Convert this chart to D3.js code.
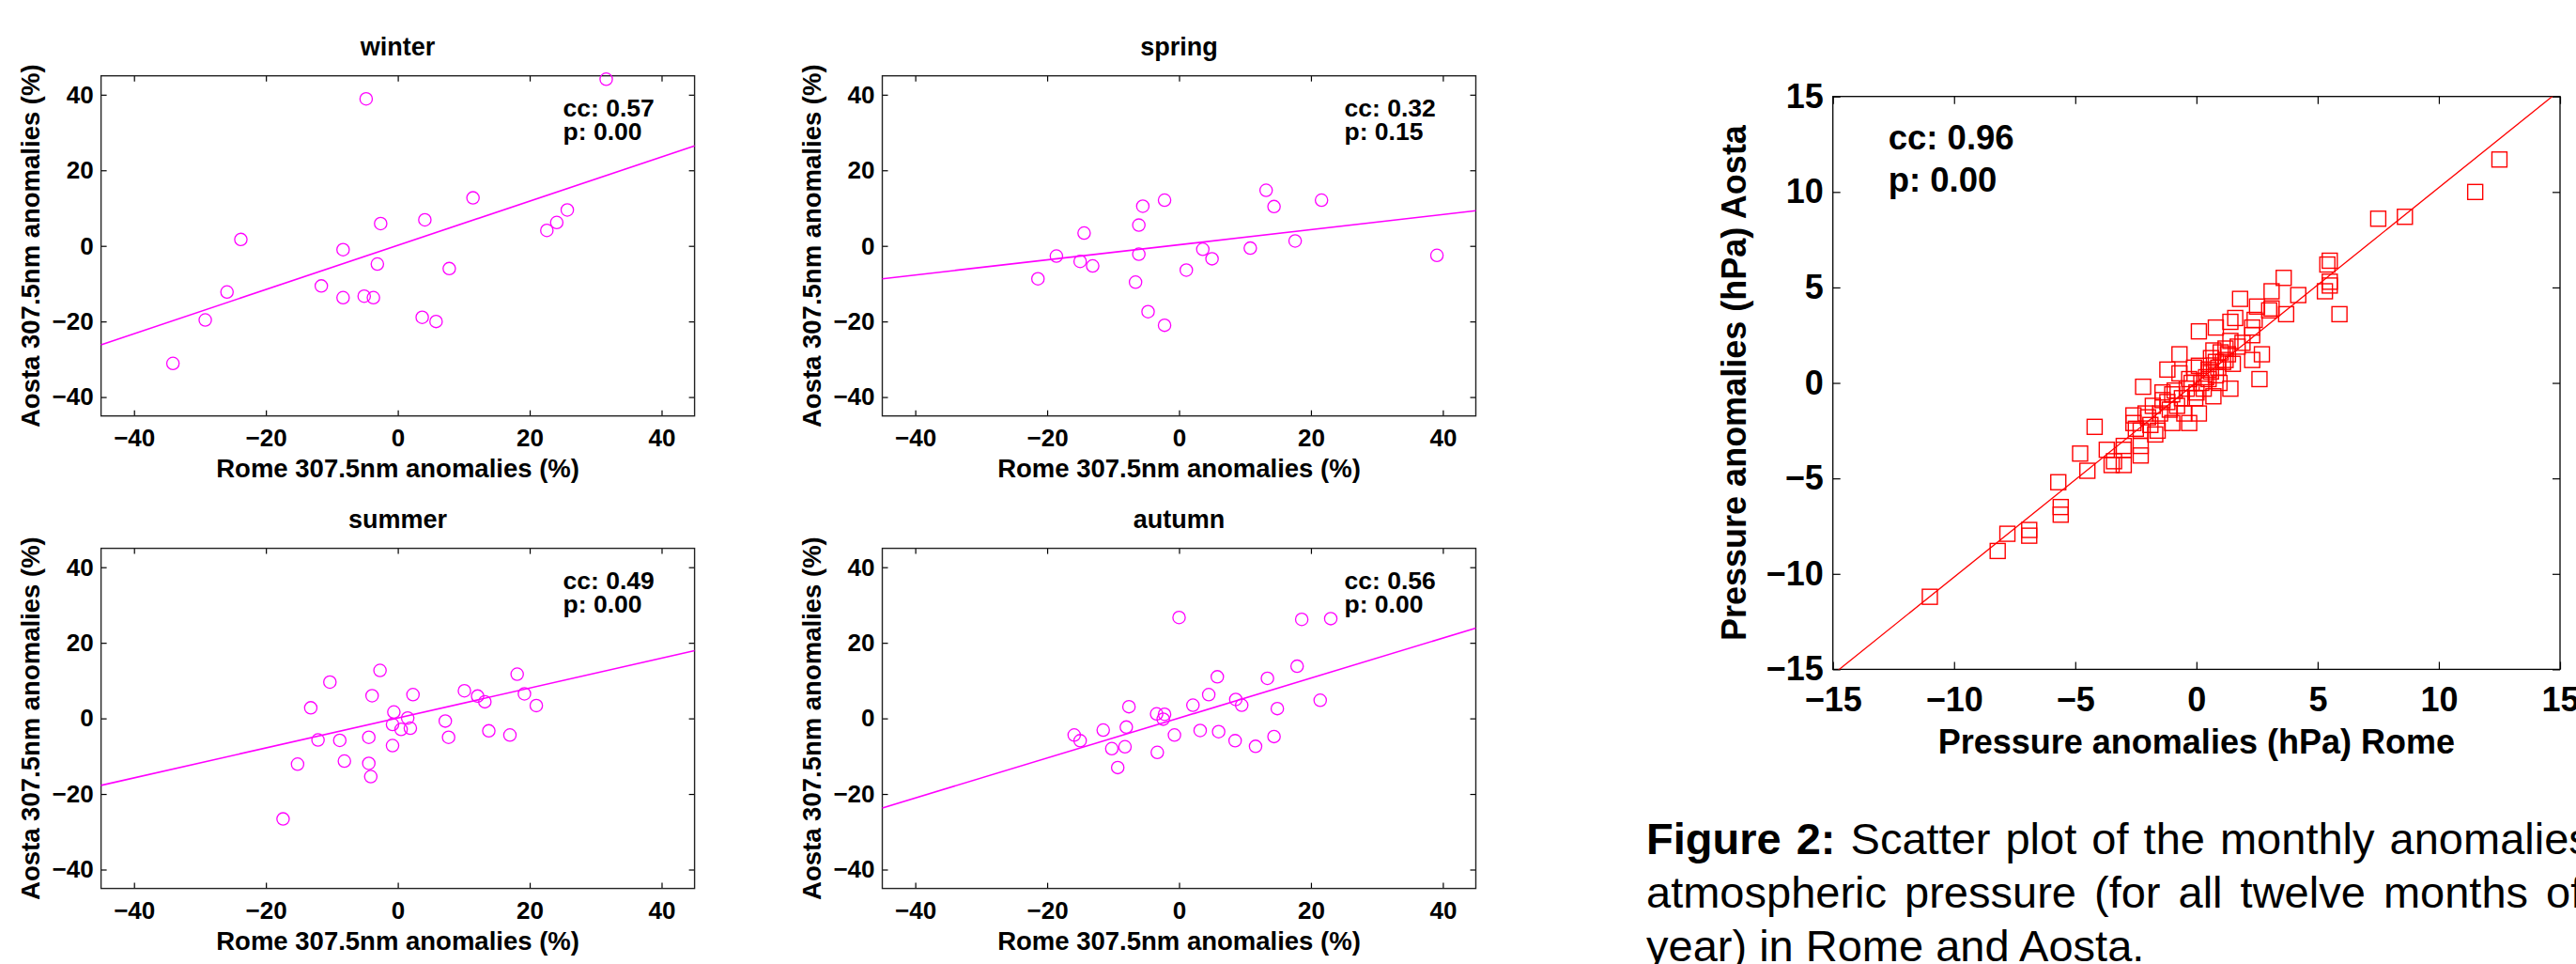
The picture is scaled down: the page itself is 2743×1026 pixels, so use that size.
<!DOCTYPE html>
<html><head><meta charset="utf-8">
<script src="https://cdn.jsdelivr.net/npm/d3@7"></script>
<style>
html,body{margin:0;padding:0;background:#fff;overflow:hidden;}
svg{display:block;font-family:"Liberation Sans",Arial,Helvetica,sans-serif;}
</style></head>
<body>
<svg id="chart" width="2743" height="1026"></svg>
<script>
// ---------------- DATA ----------------
const seasons = ["winter", "spring", "summer", "autumn"];
const seasonTicks = [-40, -20, 0, 20, 40];
const seasonXLabel = "Rome 307.5nm anomalies (%)";
const seasonYLabel = "Aosta 307.5nm anomalies (%)";
const ccLabels = ["cc: 0.57", "cc: 0.32", "cc: 0.49", "cc: 0.56"];
const pLabels = ["p: 0.00", "p: 0.15", "p: 0.00", "p: 0.00"];
const fitSlopes = [0.585, 0.20, 0.396, 0.529];
const fitIntercepts = [0.15, 0.3, 0.1, 0.1];

const winterRome  = [31.6, -4.8, 11.4, 25.7, 24.1, 22.6, 4.1, -2.6, -23.8, -8.3, -3.1, 7.8, -11.6, -25.9, -8.3, -5.1, -3.7, 3.7, 5.8, -29.2, -34.1];
const winterAosta = [44.1, 38.9, 12.7, 9.5, 6.2, 4.1, 6.9, 5.9, 1.7, -1.0, -4.8, -6.0, -10.6, -12.2, -13.7, -13.3, -13.7, -18.9, -20.0, -19.6, -31.1];

const springRome  = [13.2, 21.6, -2.2, -5.5, 14.4, -6.1, -14.4, 17.6, 3.6, 10.8, -6.1, -18.6, 39.1, 5.0, -15.0, -13.1, 1.1, -21.4, -6.6, -4.7, -2.2];
const springAosta = [14.7, 12.1, 12.1, 10.5, 10.4, 5.5, 3.4, 1.3, -0.9, -0.6, -2.2, -2.7, -2.5, -3.4, -4.1, -5.3, -6.4, -8.7, -9.6, -17.4, -21.0];

const summerRome  = [-2.7, -10.3, 18.1, 10.1, 2.3, -3.9, 12.1, 19.2, 13.2, 21.0, -13.2, -0.6, 1.5, 7.2, -0.8, 0.5, 1.9, 13.8, 17.0, -4.4, 7.7, -12.1, -8.8, -0.8, -8.1, -15.2, -4.4, -4.1, -17.4];
const summerAosta = [12.7, 9.6, 11.7, 7.3, 6.3, 6.0, 5.9, 6.5, 4.4, 3.4, 2.8, 1.7, 0.1, -0.7, -1.6, -2.9, -2.6, -3.3, -4.4, -5.0, -5.0, -5.7, -5.8, -7.2, -11.3, -12.1, -11.9, -15.4, -26.6];

const autumnRome  = [0.0, 18.6, 23.0, 17.9, 5.8, 13.4, 4.5, 8.6, 21.4, 2.1, 9.5, -7.6, 14.9, -3.4, -2.2, -2.4, -8.0, -11.5, 3.2, 6.0, -15.9, -0.7, 14.4, -15.0, 8.5, -8.2, 11.6, -10.2, -3.3, -9.3];
const autumnAosta = [26.7, 26.2, 26.4, 13.8, 11.0, 10.6, 6.3, 5.0, 4.8, 3.5, 3.5, 3.1, 2.6, 1.2, 1.1, -0.2, -2.3, -3.1, -3.2, -3.5, -4.4, -4.4, -4.8, -5.9, -5.9, -7.5, -7.4, -8.0, -9.0, -13.0];

const seasonRome  = [winterRome, springRome, summerRome, autumnRome];
const seasonAosta = [winterAosta, springAosta, summerAosta, autumnAosta];

const pressureTicks = [-15, -10, -5, 0, 5, 10, 15];
const pressureXLabel = "Pressure anomalies (hPa) Rome";
const pressureYLabel = "Pressure anomalies (hPa) Aosta";
const pressureCC = "cc: 0.96";
const pressureP = "p: 0.00";
const pressureSlope = 1.02;
const pressureIntercept = 0.03;
const pressureRome = [12.5, 11.5, 8.6, 7.5, 5.4, 5.5, 5.5, 5.3, 5.5, 5.9, 3.6, 4.2, 3.1, 3.7, 3.0, 3.1, 1.8, 2.5, 2.4, 2.7, 2.3, 2.6, 0.1, 0.8, 1.6, 1.4, 2.3, 2.3, 1.4, -0.7, -1.2, -2.2, -4.2, -4.8, -4.5, -5.7, -5.6, -5.6, -3.7, -3.5, -3.0, -3.0, -2.3, -2.3, -7.8, -6.9, -6.9, -8.2, -11.0, -2.5, -2.6, -2.1, -1.7, -0.3, -1.0, 0.1, 1.4, 0.7, -2.6, -2.3, -1.6, -3.4, -3.0,
  0.7, 1.0, 1.2, 0.8, -0.1, 0.1, -0.7, 0.4, -0.2, -1.4, -0.9, -0.6, -1.4, -1.8, -1.1, -0.5, -0.05, 0.95, 0.6, 1.5, 1.2, 0.2, 0.5, 1.1, 0.9, 1.7, 1.9, -0.4, -1.2, -0.8, 0.3, 0.5, -1.5, -2.0, 0.0, 1.3, 0.6, -0.3, -1.0, -1.9, 0.8];
const pressureAosta = [11.7, 10.0, 8.7, 8.6, 6.2, 6.4, 5.3, 4.8, 5.1, 3.6, 5.5, 4.6, 4.8, 3.6, 3.8, 3.9, 4.4, 4.0, 3.3, 1.5, 1.2, 0.2, 2.7, 2.9, 3.4, 3.2, 2.9, 2.5, 2.2, 1.5, 0.7, -0.2, -2.3, -3.7, -4.6, -5.2, -6.5, -6.9, -3.5, -4.3, -4.3, -3.5, -3.3, -3.8, -7.9, -7.7, -8.0, -8.8, -11.2, -2.4, -1.7, -1.6, -2.7, -2.1, -2.1, -1.6, -0.3, -0.7, -2.1, -2.5, -2.5, -4.1, -3.3,
  1.7, 1.6, 1.2, 1.1, 0.8, 0.9, 0.5, 0.3, 0.0, -0.5, -0.4, -0.8, -0.9, -1.2, -1.4, -1.6, -0.8, 0.0, 0.6, 1.0, 1.8, 0.0, 0.7, 1.1, 0.8, 1.9, 2.1, -0.3, -1.0, -1.2, -0.3, 0.2, -1.6, -1.8, -0.5, 1.5, 1.3, 0.2, -0.6, -2.2, 0.4];

const captionLines = [
  ["Figure 2:", " Scatter plot of the monthly anomalies of"],
  ["", "atmospheric pressure (for all twelve months of the"],
  ["", "year) in Rome and Aosta."]
];

// ---------------- LAYOUT ----------------
const svg = d3.select("#chart");
const magenta = "#ff00ff";
const panels = [
  {x: 107.6, y: 80.7,  w: 632, h: 362, ylabX: 42},
  {x: 939.5, y: 80.7,  w: 632, h: 362, ylabX: 874},
  {x: 107.6, y: 583.6, w: 632, h: 362, ylabX: 42},
  {x: 939.5, y: 583.6, w: 632, h: 362, ylabX: 874}
];

function styleAxis(g, size) {
  g.attr("font-family", null).attr("font-size", null);
  g.selectAll("text").attr("font-size", size).attr("font-weight", "bold")
    .attr("fill", "#000").attr("font-family", "'Liberation Sans',Arial,sans-serif");
  g.selectAll("line").attr("stroke", "#000").attr("stroke-width", 1.2);
  g.select(".domain").remove();
}

seasons.forEach((name, i) => {
  const p = panels[i];
  const g = svg.append("g").attr("transform", `translate(${p.x},${p.y})`);
  const x = d3.scaleLinear().domain([-45, 45]).range([0, p.w]);
  const y = d3.scaleLinear().domain([-45, 45]).range([p.h, 0]);

  g.append("g").attr("transform", `translate(0,${p.h})`)
    .call(d3.axisBottom(x).tickValues(seasonTicks).tickSizeInner(-6).tickSizeOuter(0).tickPadding(14).tickFormat(d3.format("d")))
    .call(s => styleAxis(s, 26));
  g.append("g")
    .call(d3.axisTop(x).tickValues(seasonTicks).tickSizeInner(-6).tickSizeOuter(0).tickFormat(""))
    .call(s => styleAxis(s, 26));
  g.append("g")
    .call(d3.axisLeft(y).tickValues(seasonTicks).tickSizeInner(-6).tickSizeOuter(0).tickPadding(8).tickFormat(d3.format("d")))
    .call(s => styleAxis(s, 26));
  g.append("g").attr("transform", `translate(${p.w},0)`)
    .call(d3.axisRight(y).tickValues(seasonTicks).tickSizeInner(-6).tickSizeOuter(0).tickFormat(""))
    .call(s => styleAxis(s, 26));

  g.append("rect").attr("width", p.w).attr("height", p.h)
    .attr("fill", "none").attr("stroke", "#222").attr("stroke-width", 1.4);

  // regression line
  const fx = [-45, 45];
  g.append("line")
    .attr("x1", x(fx[0])).attr("y1", y(fitSlopes[i] * fx[0] + fitIntercepts[i]))
    .attr("x2", x(fx[1])).attr("y2", y(fitSlopes[i] * fx[1] + fitIntercepts[i]))
    .attr("stroke", magenta).attr("stroke-width", 1.6);

  const pts = seasonRome[i].map((v, k) => [v, seasonAosta[i][k]]);
  g.selectAll("circle.pt").data(pts).enter().append("circle")
    .attr("class", "pt")
    .attr("cx", d => x(d[0])).attr("cy", d => y(d[1])).attr("r", 6.6)
    .attr("fill", "none").attr("stroke", magenta).attr("stroke-width", 1.3);

  // title
  g.append("text").attr("x", p.w / 2).attr("y", -22).attr("text-anchor", "middle")
    .attr("font-size", 27).attr("font-weight", "bold").text(name);
  // stats
  g.append("text").attr("x", 492).attr("y", 43.5)
    .attr("font-size", 26.5).attr("font-weight", "bold").text(ccLabels[i]);
  g.append("text").attr("x", 492).attr("y", 68)
    .attr("font-size", 26.5).attr("font-weight", "bold").text(pLabels[i]);
  // axis labels
  g.append("text").attr("x", p.w / 2).attr("y", p.h + 65).attr("text-anchor", "middle")
    .attr("font-size", 27.5).attr("font-weight", "bold").text(seasonXLabel);
  svg.append("text")
    .attr("transform", `translate(${p.ylabX},${p.y + p.h / 2}) rotate(-90)`)
    .attr("text-anchor", "middle").attr("font-size", 27.5).attr("font-weight", "bold")
    .text(seasonYLabel);
});

// ---------------- PRESSURE PANEL ----------------
(function () {
  const P = {x: 1951.7, y: 102.7, w: 774.3, h: 609.7};
  const g = svg.append("g").attr("transform", `translate(${P.x},${P.y})`);
  const x = d3.scaleLinear().domain([-15, 15]).range([0, P.w]);
  const y = d3.scaleLinear().domain([-15, 15]).range([P.h, 0]);

  g.append("g").attr("transform", `translate(0,${P.h})`)
    .call(d3.axisBottom(x).tickValues(pressureTicks).tickSizeInner(-8).tickSizeOuter(0).tickPadding(19).tickFormat(d3.format("d")))
    .call(s => styleAxis(s, 36));
  g.append("g")
    .call(d3.axisTop(x).tickValues(pressureTicks).tickSizeInner(-8).tickSizeOuter(0).tickFormat(""))
    .call(s => styleAxis(s, 36));
  g.append("g")
    .call(d3.axisLeft(y).tickValues(pressureTicks).tickSizeInner(-8).tickSizeOuter(0).tickPadding(10).tickFormat(d3.format("d")))
    .call(s => styleAxis(s, 36));
  g.append("g").attr("transform", `translate(${P.w},0)`)
    .call(d3.axisRight(y).tickValues(pressureTicks).tickSizeInner(-8).tickSizeOuter(0).tickFormat(""))
    .call(s => styleAxis(s, 36));

  g.append("rect").attr("width", P.w).attr("height", P.h)
    .attr("fill", "none").attr("stroke", "#000").attr("stroke-width", 1.3);

  svg.append("clipPath").attr("id", "pclip").append("rect")
    .attr("width", P.w).attr("height", P.h);
  g.append("line").attr("clip-path", "url(#pclip)")
    .attr("x1", x(-16)).attr("y1", y(pressureSlope * -16 + pressureIntercept))
    .attr("x2", x(16)).attr("y2", y(pressureSlope * 16 + pressureIntercept))
    .attr("stroke", "#ff0000").attr("stroke-width", 1.3);

  const s = 16;
  const pts = pressureRome.map((v, k) => [v, pressureAosta[k]]);
  g.selectAll("rect.sq").data(pts).enter().append("rect")
    .attr("class", "sq")
    .attr("x", d => x(d[0]) - s / 2).attr("y", d => y(d[1]) - s / 2)
    .attr("width", s).attr("height", s)
    .attr("fill", "none").attr("stroke", "#ff0000").attr("stroke-width", 1.4);

  g.append("text").attr("x", 59).attr("y", 56.5)
    .attr("font-size", 36.5).attr("font-weight", "bold").text(pressureCC);
  g.append("text").attr("x", 59).attr("y", 101.5)
    .attr("font-size", 36.5).attr("font-weight", "bold").text(pressureP);

  g.append("text").attr("x", P.w / 2).attr("y", 802 - P.y).attr("text-anchor", "middle")
    .attr("font-size", 36).attr("font-weight", "bold").text(pressureXLabel);
  svg.append("text")
    .attr("transform", `translate(1859,${P.y + P.h / 2}) rotate(-90)`)
    .attr("text-anchor", "middle").attr("font-size", 36).attr("font-weight", "bold")
    .text(pressureYLabel);
})();

// ---------------- CAPTION (justified lines 1-2) ----------------
const cap = svg.append("g").attr("font-size", 47);
const capWordSpacing = [3, 6, 0];
captionLines.forEach((ln, i) => {
  const t = cap.append("text").attr("x", 1753).attr("y", 909.3 + i * 57)
    .attr("word-spacing", capWordSpacing[i]);
  if (ln[0]) t.append("tspan").attr("font-weight", "bold").text(ln[0]);
  t.append("tspan").text(ln[1]);
});
</script>
</body></html>
